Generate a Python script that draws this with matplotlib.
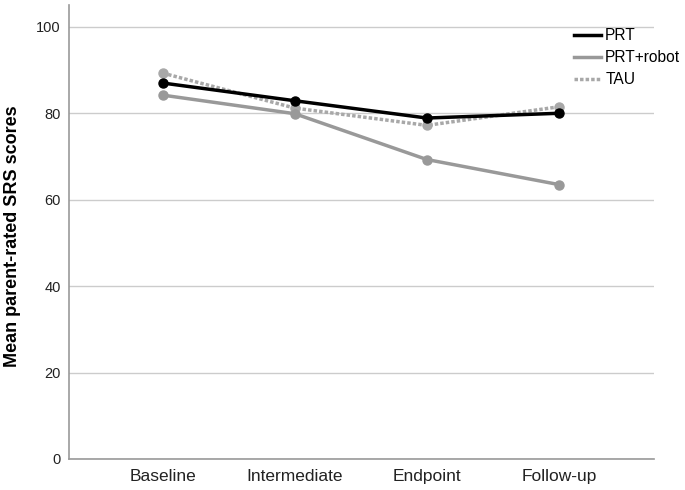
import matplotlib
matplotlib.use("Agg")
import matplotlib.pyplot as plt

categories = ["Baseline", "Intermediate", "Endpoint", "Follow-up"]
prt = [87.0, 82.9, 78.9, 80.0]
prt_robot = [84.2, 79.9, 69.3, 63.5]
tau = [89.3, 81.2, 77.2, 81.5]
yticks = [0, 20, 40, 60, 80, 100]

plt.rcParams['font.family'] = ['Liberation Sans', 'DejaVu Sans']

fig = plt.figure(figsize=(6.85, 4.9), dpi=100)
ax = fig.add_axes([0.1007, 0.0633, 0.854, 0.926])

x = list(range(len(categories)))
ax.plot(x, prt, color='black', lw=2.5, marker='o', ms=6.5, label='PRT', zorder=4)
ax.plot(x, prt_robot, color='#999999', lw=2.5, marker='o', ms=6.5, label='PRT+robot', zorder=3)
ax.plot(x, tau, color='#a8a8a8', lw=2.5, ls=(0, (1, 0.6)), marker='o', ms=6.5, label='TAU', zorder=2)

ax.set_xlim(-0.71, 3.72)
ax.set_ylim(0, 105)
ax.set_yticks(yticks)
ax.set_xticks(x)
ax.set_xticklabels(categories, fontsize=12.5, color='#222222')
ax.tick_params(axis='y', labelsize=10.5, colors='#222222', length=0, pad=6)
ax.tick_params(axis='x', length=0, pad=7)
ax.grid(axis='y', color='#cccccc', lw=1)
ax.set_axisbelow(True)
for s in ['top', 'right']:
    ax.spines[s].set_visible(False)
for s in ['left', 'bottom']:
    ax.spines[s].set_color('#999999')
    ax.spines[s].set_linewidth(1.2)
ax.set_ylabel('Mean parent-rated SRS scores', fontsize=13, fontweight='bold')
ax.yaxis.set_label_coords(-0.082, 0.49)

leg = fig.legend(handles=ax.get_lines(), loc='upper left', bbox_to_anchor=(0.838, 0.942),
                 frameon=False, fontsize=11.2, handlelength=1.75, handletextpad=0.25,
                 labelspacing=0.45, borderpad=0, borderaxespad=0)
for h in leg.get_lines():
    h.set_marker('')

fig.savefig('out.png', dpi=100)
